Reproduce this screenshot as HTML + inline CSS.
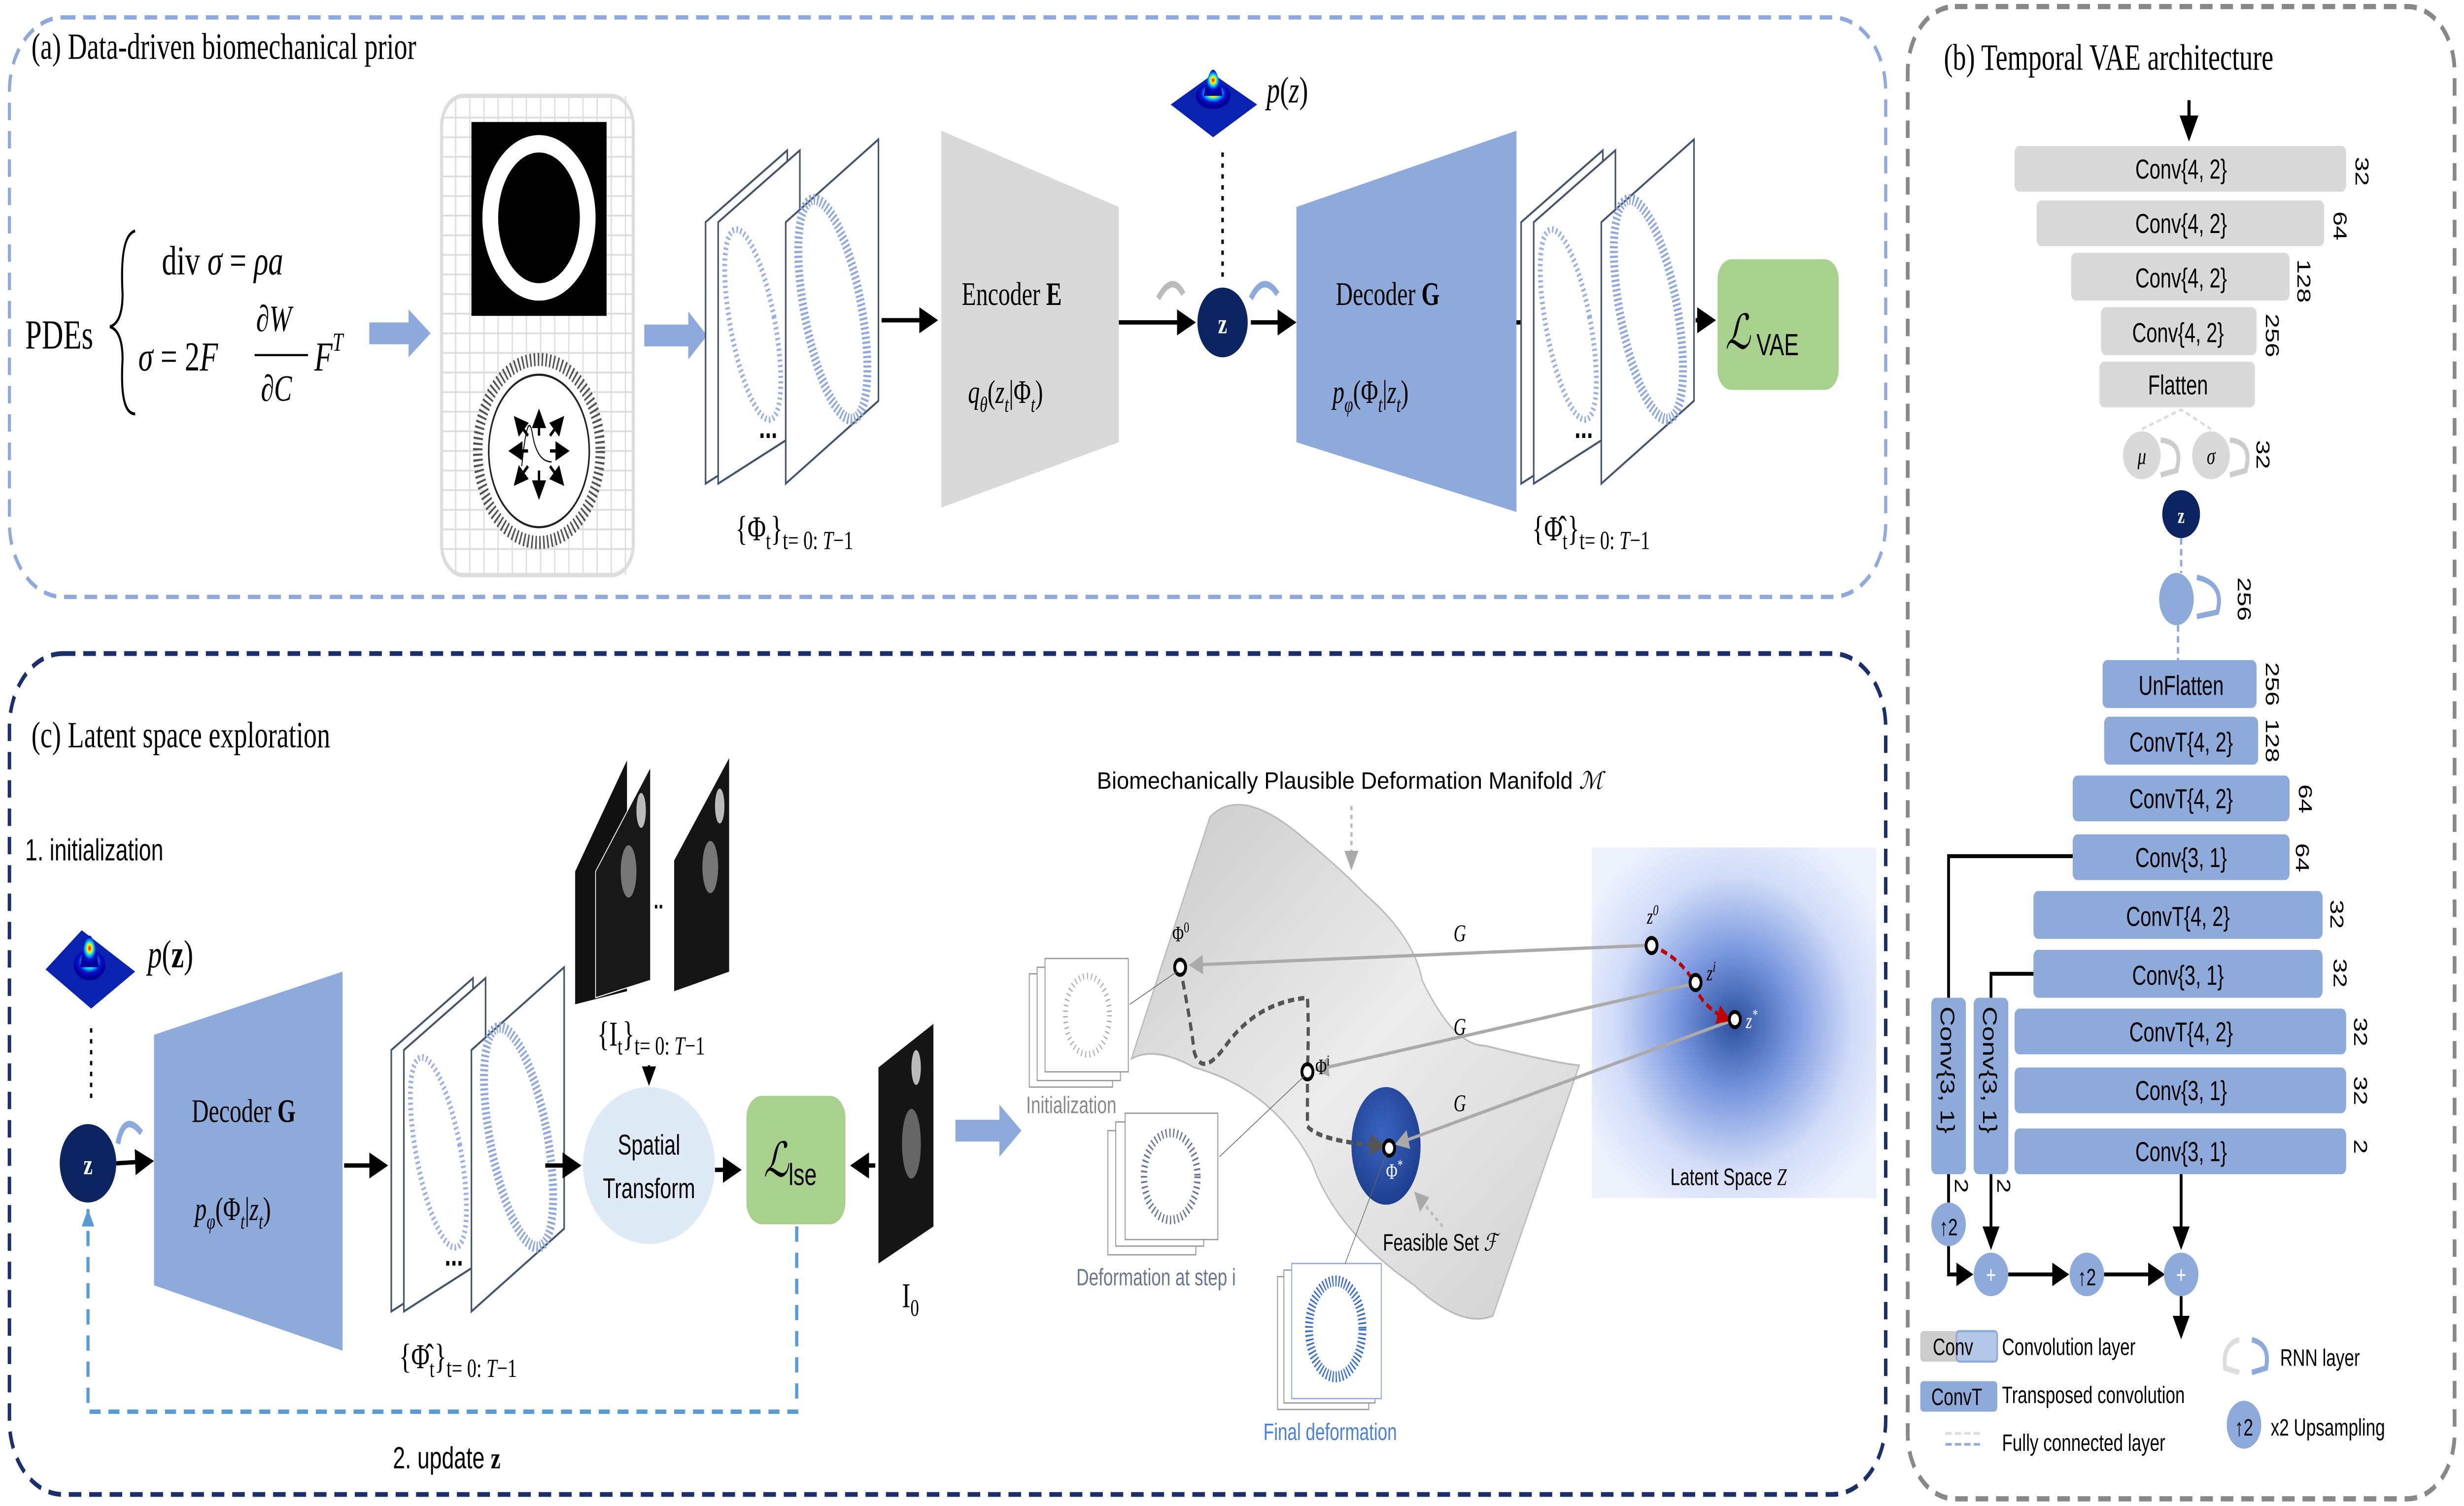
<!DOCTYPE html>
<html><head><meta charset="utf-8"><style>
html,body{margin:0;padding:0;background:#fff;width:100%;height:100%;overflow:hidden;}
svg{display:block;width:100vw;height:100vh;}
.sr{font-family:"Liberation Serif",serif;}
.ss{font-family:"Liberation Sans",sans-serif;}
</style></head><body>
<svg viewBox="0 0 1568 691.3" preserveAspectRatio="none" xmlns="http://www.w3.org/2000/svg">
<defs>
<marker id="ab" markerWidth="6" markerHeight="6" refX="5" refY="3" orient="auto" markerUnits="strokeWidth"><path d="M0,0 L6,3 L0,6 z" fill="#000"/></marker>
<marker id="ag" markerWidth="6" markerHeight="6" refX="5" refY="3" orient="auto" markerUnits="strokeWidth"><path d="M0,0 L6,3 L0,6 z" fill="#aaa"/></marker>
<marker id="ar" markerWidth="5" markerHeight="5" refX="4" refY="2.5" orient="auto" markerUnits="strokeWidth"><path d="M0,0 L5,2.5 L0,5 z" fill="#c00000"/></marker>
<marker id="ad" markerWidth="5" markerHeight="5" refX="4" refY="2.5" orient="auto" markerUnits="strokeWidth"><path d="M0,0 L5,2.5 L0,5 z" fill="#555"/></marker>
<g id="frames">
 <polygon points="0,38 52,5 52,134 0,158" fill="#fff" stroke="#44546a" stroke-width="1"/>
 <polygon points="8,38 60,5 60,134 8,158" fill="#fff" stroke="#44546a" stroke-width="1"/>
 <ellipse cx="30" cy="85" rx="14" ry="45" fill="none" stroke="#9bb0e0" stroke-width="3" stroke-dasharray="1 1.5" transform="rotate(-15 30 85)"/>
 <polygon points="51,38 110,0 110,120 51,158" fill="#fff" stroke="#44546a" stroke-width="1"/>
 <ellipse cx="81" cy="78" rx="18" ry="52" fill="none" stroke="#8ea7dc" stroke-width="5" stroke-dasharray="1 1.2" transform="rotate(-15 81 78)"/>
 <text x="34" y="137" class="ss" font-size="14" font-weight="bold">...</text>
</g>
<radialGradient id="bump" cx="50%" cy="40%" r="50%"><stop offset="0" stop-color="#e00"/><stop offset="0.25" stop-color="#ff0"/><stop offset="0.45" stop-color="#0cf"/><stop offset="0.7" stop-color="#11c"/><stop offset="1" stop-color="#009"/></radialGradient>
<radialGradient id="lat" cx="50%" cy="50%" r="60%"><stop offset="0" stop-color="#2b4f9e"/><stop offset="0.35" stop-color="#7d9ae0"/><stop offset="0.7" stop-color="#d2dcf8"/><stop offset="1" stop-color="#eef2fd"/></radialGradient>
<radialGradient id="feas" cx="45%" cy="40%" r="60%"><stop offset="0" stop-color="#3a64c0"/><stop offset="1" stop-color="#1f3f8f"/></radialGradient>
<linearGradient id="man" x1="0" y1="0" x2="1" y2="1"><stop offset="0" stop-color="#c9c9c9"/><stop offset="0.5" stop-color="#ececec"/><stop offset="1" stop-color="#d0d0d0"/></linearGradient>
</defs>

<rect x="6" y="8" width="1194" height="266" rx="34" fill="none" stroke="#8fa9dc" stroke-width="2" stroke-dasharray="8 5"/>
<rect x="6" y="300" width="1194" height="386" rx="34" fill="none" stroke="#1a2f6b" stroke-width="2.2" stroke-dasharray="8 5"/>
<rect x="1214" y="3" width="348" height="685" rx="30" fill="none" stroke="#888" stroke-width="2.4" stroke-dasharray="8 5"/>

<text x="20" y="27" class="sr" font-size="17">(a) Data-driven biomechanical prior</text>
<text x="16" y="160" class="sr" font-size="19">PDEs</text>
<path d="M86,106 Q76,108 78,135 Q78,148 70,150 Q78,152 78,165 Q76,190 86,190" fill="none" stroke="#000" stroke-width="1.3"/>
<text x="103" y="126" class="sr" font-size="19">div <tspan font-style="italic">σ</tspan> =  <tspan font-style="italic">ρa</tspan></text>
<text x="88" y="170" class="sr" font-size="19"><tspan font-style="italic">σ</tspan> = 2<tspan font-style="italic">F</tspan></text>
<text x="163" y="152" class="sr" font-size="17" font-style="italic">∂W</text>
<line x1="162" y1="163" x2="196" y2="163" stroke="#000" stroke-width="1"/>
<text x="166" y="184" class="sr" font-size="17" font-style="italic">∂C</text>
<text x="200" y="170" class="sr" font-size="19" font-style="italic">F<tspan font-size="12" dy="-9">T</tspan></text>
<polygon points="235,148 260,148 260,142 274,153 260,164 260,158 235,158" fill="#8ea9db"/>
<rect x="281" y="44" width="122" height="220" rx="14" fill="#fff" stroke="#ddd" stroke-width="2"/>
<g stroke="#ddd" stroke-width="0.8">
<path d="M281,54H403M281,63H403M281,72H403M281,81H403M281,90H403M281,99H403M281,108H403M281,117H403M281,126H403M281,135H403M281,144H403M281,153H403M281,162H403M281,171H403M281,180H403M281,189H403M281,198H403M281,207H403M281,216H403M281,225H403M281,234H403M281,243H403M281,252H403"/>
<path d="M290,44V264M299,44V264M308,44V264M317,44V264M326,44V264M335,44V264M344,44V264M353,44V264M362,44V264M371,44V264M380,44V264M389,44V264M398,44V264"/>
</g>
<rect x="300" y="56" width="86" height="89" fill="#000"/>
<ellipse cx="343" cy="100" rx="36" ry="38" fill="#fff"/>
<ellipse cx="343" cy="100" rx="26" ry="30" fill="#000"/>
<ellipse cx="343" cy="207" rx="39" ry="42" fill="#fff" stroke="#555" stroke-width="6" stroke-dasharray="1 1.5"/>
<ellipse cx="343" cy="207" rx="32" ry="35" fill="#fff" stroke="#222" stroke-width="1"/>
<g stroke="#000" stroke-width="1.5" marker-end="url(#ab)">
<line x1="343" y1="200" x2="343" y2="189"/><line x1="343" y1="216" x2="343" y2="228"/>
<line x1="336" y1="207" x2="325" y2="207"/><line x1="350" y1="207" x2="361" y2="207"/>
<line x1="336" y1="200" x2="328" y2="192"/><line x1="350" y1="200" x2="358" y2="192"/>
<line x1="336" y1="214" x2="328" y2="222"/><line x1="350" y1="214" x2="358" y2="222"/>
</g>
<path d="M332,214 Q336,186 339,200 Q342,212 351,212" fill="none" stroke="#000" stroke-width="0.6"/>
<polygon points="410,149 438,149 438,143 450,154 438,165 438,159 410,159" fill="#8ea9db"/>
<use href="#frames" x="449" y="64"/>
<text x="468" y="248" class="sr" font-size="16">{Φ<tspan font-size="11" dy="4">t</tspan><tspan dy="-4">}</tspan><tspan font-size="12" dy="4">t= 0: <tspan font-style="italic">T</tspan>−1</tspan></text>
<line x1="561" y1="147" x2="595" y2="147" stroke="#000" stroke-width="2" marker-end="url(#ab)"/>
<polygon points="599,60 712,95 712,203 599,233" fill="#d9d9d9"/>
<text x="612" y="140" class="sr" font-size="15">Encoder <tspan font-weight="bold">E</tspan></text>
<text x="616" y="185" class="sr" font-size="15" font-style="italic">q<tspan font-size="10" dy="4">θ</tspan><tspan dy="-4" font-style="normal">(</tspan>z<tspan font-size="10" dy="4">t</tspan><tspan dy="-4" font-style="normal">|Φ</tspan><tspan font-size="10" dy="4">t</tspan><tspan dy="-4" font-style="normal">)</tspan></text>
<path d="M737,137 Q746,125 753,135" fill="none" stroke="#bbb" stroke-width="3"/>
<line x1="712" y1="148" x2="759" y2="148" stroke="#000" stroke-width="2" marker-end="url(#ab)"/>
<circle cx="778" cy="148" r="16" fill="#0c2461"/>
<text x="778" y="153" text-anchor="middle" class="sr" font-size="13" font-weight="bold" fill="#fff">z</text>
<path d="M796,137 Q804,125 813,135" fill="none" stroke="#8ea9db" stroke-width="3"/>
<line x1="796" y1="148" x2="823" y2="148" stroke="#000" stroke-width="2" marker-end="url(#ab)"/>
<line x1="778" y1="70" x2="778" y2="128" stroke="#000" stroke-width="1.6" stroke-dasharray="2 3"/>
<polygon points="745,48 772,34 800,48 772,63" fill="#0a22b0"/>
<ellipse cx="772" cy="44" rx="11" ry="6" fill="url(#bump)"/>
<path d="M766,44 Q772,20 778,44 z" fill="url(#bump)"/>
<text x="806" y="47" class="sr" font-size="17" font-style="italic">p<tspan font-style="normal">(</tspan>z<tspan font-style="normal">)</tspan></text>
<polygon points="825,95 965,60 965,235 825,203" fill="#8eaadb"/>
<text x="850" y="140" class="sr" font-size="15">Decoder <tspan font-weight="bold">G</tspan></text>
<text x="848" y="185" class="sr" font-size="15" font-style="italic">p<tspan font-size="10" dy="4">φ</tspan><tspan dy="-4" font-style="normal">(Φ</tspan><tspan font-size="10" dy="4">t</tspan><tspan dy="-4" font-style="normal">|</tspan>z<tspan font-size="10" dy="4">t</tspan><tspan dy="-4" font-style="normal">)</tspan></text>
<line x1="965" y1="148" x2="974" y2="148" stroke="#000" stroke-width="2"/>
<use href="#frames" x="968" y="64"/>
<text x="975" y="248" class="sr" font-size="16">{Φ̂<tspan font-size="11" dy="4">t</tspan><tspan dy="-4">}</tspan><tspan font-size="12" dy="4">t= 0: <tspan font-style="italic">T</tspan>−1</tspan></text>
<line x1="1079" y1="147" x2="1090" y2="147" stroke="#000" stroke-width="2" marker-end="url(#ab)"/>
<rect x="1093" y="119" width="77" height="60" rx="9" fill="#a9d18e"/>
<text x="1098" y="160" class="sr" font-size="22" font-style="italic">ℒ<tspan font-size="14" font-style="normal" class="ss" dy="3"> VAE</tspan></text>

<text x="20" y="343" class="sr" font-size="17">(c) Latent space exploration</text>
<text x="16" y="395" class="ss" font-size="14">1. initialization</text>
<polygon points="29,445 52,427 86,446 58,463" fill="#0a22b0"/>
<ellipse cx="57" cy="443" rx="10" ry="7" fill="url(#bump)"/>
<path d="M51,444 Q57,415 63,444 z" fill="url(#bump)"/>
<text x="94" y="444" class="sr" font-size="18" font-style="italic">p<tspan font-style="normal">(</tspan><tspan font-weight="bold" font-style="normal">z</tspan><tspan font-style="normal">)</tspan></text>
<line x1="58" y1="472" x2="58" y2="505" stroke="#000" stroke-width="1.5" stroke-dasharray="2 3"/>
<circle cx="56" cy="534" r="18" fill="#0c2461"/>
<text x="56" y="539" text-anchor="middle" class="sr" font-size="13" font-weight="bold" fill="#fff">z</text>
<path d="M75,525 Q79,510 90,520" fill="none" stroke="#8ea9db" stroke-width="3"/>
<line x1="74" y1="534" x2="96" y2="533" stroke="#000" stroke-width="2" marker-end="url(#ab)"/>
<polygon points="98,475 218,446 218,620 98,590" fill="#8eaadb"/>
<text x="122" y="515" class="sr" font-size="15">Decoder <tspan font-weight="bold">G</tspan></text>
<text x="124" y="560" class="sr" font-size="15" font-style="italic">p<tspan font-size="10" dy="4">φ</tspan><tspan dy="-4" font-style="normal">(Φ</tspan><tspan font-size="10" dy="4">t</tspan><tspan dy="-4" font-style="normal">|</tspan>z<tspan font-size="10" dy="4">t</tspan><tspan dy="-4" font-style="normal">)</tspan></text>
<line x1="219" y1="535" x2="245" y2="535" stroke="#000" stroke-width="2" marker-end="url(#ab)"/>
<use href="#frames" x="249" y="444"/>
<text x="254" y="628" class="sr" font-size="16">{Φ̂<tspan font-size="11" dy="4">t</tspan><tspan dy="-4">}</tspan><tspan font-size="12" dy="4">t= 0: <tspan font-style="italic">T</tspan>−1</tspan></text>
<line x1="347" y1="535" x2="368" y2="535" stroke="#000" stroke-width="2" marker-end="url(#ab)"/>
<g>
<polygon points="366,400 399,349 399,455 366,461" fill="#111"/>
<polygon points="379,400 414,352 414,450 379,458" fill="#181818" stroke="#fff" stroke-width="0.5"/>
<polygon points="429,395 464,348 464,446 429,455" fill="#151515"/>
<ellipse cx="400" cy="400" rx="5" ry="12" fill="#777"/><ellipse cx="452" cy="398" rx="5" ry="12" fill="#777"/>
<ellipse cx="408" cy="372" rx="3" ry="8" fill="#bbb"/><ellipse cx="458" cy="370" rx="3" ry="8" fill="#bbb"/>
<text x="416" y="417" class="ss" font-size="11" font-weight="bold">..</text>
</g>
<text x="380" y="480" class="sr" font-size="16">{I<tspan font-size="11" dy="4">t</tspan><tspan dy="-4">}</tspan><tspan font-size="12" dy="4">t= 0: <tspan font-style="italic">T</tspan>−1</tspan></text>
<line x1="413" y1="489" x2="413" y2="497" stroke="#000" stroke-width="1.5" marker-end="url(#ab)"/>
<ellipse cx="413" cy="535" rx="42" ry="36" fill="#deeaf6"/>
<text x="413" y="530" text-anchor="middle" class="ss" font-size="13">Spatial</text>
<text x="413" y="550" text-anchor="middle" class="ss" font-size="13">Transform</text>
<line x1="455" y1="537" x2="470" y2="537" stroke="#000" stroke-width="2" marker-end="url(#ab)"/>
<rect x="475" y="503" width="63" height="59" rx="10" fill="#a9d18e"/>
<text x="486" y="540" class="sr" font-size="22" font-style="italic">ℒ<tspan font-size="14" font-style="normal" class="ss" dy="4">lse</tspan></text>
<line x1="557" y1="535" x2="543" y2="535" stroke="#000" stroke-width="2" marker-end="url(#ab)"/>
<polygon points="559,490 594,470 594,563 559,580" fill="#151515"/>
<ellipse cx="580" cy="525" rx="6" ry="16" fill="#666"/><ellipse cx="583" cy="490" rx="3" ry="8" fill="#bbb"/>
<text x="574" y="600" class="sr" font-size="16">I<tspan font-size="11" dy="4">0</tspan></text>
<path d="M507,563 V648 H56 V555" fill="none" stroke="#5b9bd5" stroke-width="2" stroke-dasharray="7 5"/>
<path d="M56,555 l-4,8 h8 z" fill="#5b9bd5"/>
<text x="250" y="674" class="ss" font-size="14">2. update  <tspan class="sr" font-weight="bold">z</tspan></text>
<polygon points="608,514 636,514 636,507 650,519 636,531 636,524 608,524" fill="#8ea9db"/>

<path d="M770,375 Q790,360 830,385 Q855,400 868,410 Q900,430 905,450 Q925,480 945,480 Q990,488 1005,489 L950,604 Q930,610 900,590 Q850,565 835,534 Q810,500 760,490 Q735,480 720,486 Z" fill="url(#man)" stroke="#bbb" stroke-width="0.8"/>
<text x="698" y="362" class="ss" font-size="11" textLength="322" lengthAdjust="spacingAndGlyphs">Biomechanically Plausible Deformation Manifold <tspan class="sr" font-style="italic">ℳ</tspan></text>
<line x1="860" y1="370" x2="860" y2="398" stroke="#bbb" stroke-width="1.5" stroke-dasharray="2 2" marker-end="url(#ag)"/>
<rect x="1013" y="389" width="181" height="161" fill="url(#lat)"/>
<text x="1063" y="544" class="ss" font-size="11">Latent Space <tspan class="sr" font-style="italic">Z</tspan></text>
<ellipse cx="882" cy="526" rx="22" ry="27" fill="url(#feas)"/>
<text x="880" y="574" class="ss" font-size="11">Feasible Set <tspan class="sr" font-style="italic">ℱ</tspan></text>
<line x1="918" y1="563" x2="901" y2="548" stroke="#bbb" stroke-width="1.5" stroke-dasharray="2 2" marker-end="url(#ag)"/>
<g stroke="#aaa" stroke-width="1.5" fill="none" marker-end="url(#ag)">
<line x1="1047" y1="434" x2="758" y2="443"/>
<line x1="1075" y1="452" x2="838" y2="491"/>
<line x1="1100" y1="469" x2="889" y2="525"/>
</g>
<text x="925" y="432" class="sr" font-size="11" font-style="italic">G</text>
<text x="925" y="475" class="sr" font-size="11" font-style="italic">G</text>
<text x="925" y="510" class="sr" font-size="11" font-style="italic">G</text>
<path d="M751,444 Q758,470 760,483 Q765,495 780,480 Q800,460 832,458 Q833,470 832,492 L832,517 Q840,524 880,526" fill="none" stroke="#555" stroke-width="2" stroke-dasharray="4 2.5" marker-end="url(#ad)"/>
<path d="M1051,434 Q1070,440 1078,451 Q1082,462 1100,468" fill="none" stroke="#c00000" stroke-width="1.8" stroke-dasharray="4 2.5" marker-end="url(#ar)"/>
<g fill="#fff" stroke="#000" stroke-width="1.8">
<circle cx="751" cy="444" r="3.5"/><circle cx="832" cy="492" r="3.5"/><circle cx="884" cy="527" r="3.5"/>
<circle cx="1051" cy="434" r="3.5"/><circle cx="1079" cy="451" r="3.5"/><circle cx="1104" cy="468" r="3.5"/>
</g>
<text x="746" y="432" class="sr" font-size="10">Φ<tspan font-size="7" dy="-4">0</tspan></text>
<text x="837" y="493" class="sr" font-size="10">Φ<tspan font-size="7" dy="-4">i</tspan></text>
<text x="882" y="541" class="sr" font-size="10" fill="#fff">Φ<tspan font-size="7" dy="-4">*</tspan></text>
<text x="1048" y="424" class="sr" font-size="10" font-style="italic">z<tspan font-size="7" dy="-4">0</tspan></text>
<text x="1086" y="450" class="sr" font-size="10" font-style="italic">z<tspan font-size="7" dy="-4">i</tspan></text>
<text x="1111" y="472" class="sr" font-size="10" font-style="italic" fill="#fff">z<tspan font-size="7" dy="-4">*</tspan></text>
<g fill="#fff" stroke="#999" stroke-width="0.6">
<rect x="655" y="447" width="53" height="52"/><rect x="660" y="444" width="53" height="52"/><rect x="665" y="440" width="53" height="52"/>
<rect x="705" y="519" width="56" height="57"/><rect x="710" y="515" width="56" height="57"/><rect x="716" y="511" width="59" height="58"/>
<rect x="813" y="586" width="58" height="61"/><rect x="817" y="583" width="58" height="61"/><rect x="822" y="580" width="57" height="62" stroke="#8ea9db"/>
</g>
<ellipse cx="692" cy="466" rx="14" ry="18" fill="none" stroke="#aaa" stroke-width="3" stroke-dasharray="0.6 2"/>
<ellipse cx="745" cy="540" rx="17" ry="20" fill="none" stroke="#6a7590" stroke-width="4" stroke-dasharray="0.8 1.6"/>
<ellipse cx="850" cy="610" rx="17" ry="22" fill="none" stroke="#3a6fd0" stroke-width="5" stroke-dasharray="0.8 1.2"/>
<g stroke="#666" stroke-width="0.4"><line x1="719" y1="461" x2="749" y2="446"/><line x1="776" y1="531" x2="830" y2="494"/><line x1="856" y1="580" x2="882" y2="530"/></g>
<text x="653" y="511" class="ss" font-size="11" fill="#888">Initialization</text>
<text x="685" y="590" class="ss" font-size="11" fill="#6a7590">Deformation at step i</text>
<text x="804" y="661" class="ss" font-size="11" fill="#4a80d6">Final deformation</text>

<text x="1237" y="32" class="sr" font-size="17">(b) Temporal VAE architecture</text>
<line x1="1393" y1="46" x2="1393" y2="63" stroke="#000" stroke-width="2" marker-end="url(#ab)"/>
<g class="ss" font-size="12.5" text-anchor="middle">
<rect x="1282" y="67" width="211" height="21" rx="3" fill="#d9d9d9"/><text x="1388" y="82">Conv{4, 2}</text>
<rect x="1296" y="92" width="183" height="21" rx="3" fill="#d9d9d9"/><text x="1388" y="107">Conv{4, 2}</text>
<rect x="1318" y="116" width="139" height="22" rx="3" fill="#d9d9d9"/><text x="1388" y="132">Conv{4, 2}</text>
<rect x="1337" y="141" width="99" height="22" rx="3" fill="#d9d9d9"/><text x="1386" y="157">Conv{4, 2}</text>
<rect x="1336" y="166" width="99" height="21" rx="3" fill="#d9d9d9"/><text x="1386" y="181">Flatten</text>
<rect x="1338" y="303" width="98" height="22" rx="3" fill="#8eaadb"/><text x="1388" y="319">UnFlatten</text>
<rect x="1339" y="329" width="98" height="22" rx="3" fill="#8eaadb"/><text x="1388" y="345">ConvT{4, 2}</text>
<rect x="1319" y="356" width="138" height="21" rx="3" fill="#8eaadb"/><text x="1388" y="371">ConvT{4, 2}</text>
<rect x="1319" y="383" width="138" height="21" rx="3" fill="#8eaadb"/><text x="1388" y="398">Conv{3, 1}</text>
<rect x="1294" y="409" width="184" height="22" rx="3" fill="#8eaadb"/><text x="1386" y="425">ConvT{4, 2}</text>
<rect x="1294" y="436" width="184" height="22" rx="3" fill="#8eaadb"/><text x="1386" y="452">Conv{3, 1}</text>
<rect x="1282" y="463" width="211" height="21" rx="3" fill="#8eaadb"/><text x="1388" y="478">ConvT{4, 2}</text>
<rect x="1282" y="490" width="211" height="21" rx="3" fill="#8eaadb"/><text x="1388" y="505">Conv{3, 1}</text>
<rect x="1282" y="518" width="211" height="21" rx="3" fill="#8eaadb"/><text x="1388" y="533">Conv{3, 1}</text>
</g>
<g class="ss" font-size="12">
<text transform="translate(1499,72) rotate(90)">32</text>
<text transform="translate(1485,97) rotate(90)">64</text>
<text transform="translate(1462,119) rotate(90)">128</text>
<text transform="translate(1442,144) rotate(90)">256</text>
<text transform="translate(1436,202) rotate(90)">32</text>
<text transform="translate(1424,265) rotate(90)">256</text>
<text transform="translate(1442,304) rotate(90)">256</text>
<text transform="translate(1442,330) rotate(90)">128</text>
<text transform="translate(1463,360) rotate(90)">64</text>
<text transform="translate(1461,387) rotate(90)">64</text>
<text transform="translate(1483,413) rotate(90)">32</text>
<text transform="translate(1485,440) rotate(90)">32</text>
<text transform="translate(1498,467) rotate(90)">32</text>
<text transform="translate(1498,494) rotate(90)">32</text>
<text transform="translate(1498,523) rotate(90)">2</text>
<text transform="translate(1244,541) rotate(90)">2</text>
<text transform="translate(1271,541) rotate(90)">2</text>
</g>
<path d="M1363,197 L1388,188 L1407,197" fill="none" stroke="#ddd" stroke-width="1.2" stroke-dasharray="3 2"/>
<ellipse cx="1363" cy="209" rx="12" ry="11" fill="#d9d9d9"/>
<ellipse cx="1407" cy="209" rx="12" ry="11" fill="#d9d9d9"/>
<text x="1363" y="213" text-anchor="middle" class="sr" font-size="11" font-style="italic">μ</text>
<text x="1407" y="213" text-anchor="middle" class="sr" font-size="11" font-style="italic">σ</text>
<path d="M1375,202 Q1390,203 1385,216 L1375,218" fill="none" stroke="#ccc" stroke-width="2.5"/>
<path d="M1419,202 Q1434,203 1429,216 L1419,218" fill="none" stroke="#ccc" stroke-width="2.5"/>
<ellipse cx="1388" cy="236" rx="12" ry="11" fill="#0c2461"/>
<text x="1388" y="240" text-anchor="middle" class="sr" font-size="10" font-weight="bold" fill="#fff">z</text>
<line x1="1388" y1="247" x2="1388" y2="263" stroke="#8ea9db" stroke-width="1.5" stroke-dasharray="3 2"/>
<ellipse cx="1385" cy="275" rx="11" ry="12" fill="#8eaadb"/>
<path d="M1398,265 Q1416,268 1411,281 L1398,283" fill="none" stroke="#8ea9db" stroke-width="2.5"/>
<line x1="1386" y1="287" x2="1386" y2="303" stroke="#8ea9db" stroke-width="1.5" stroke-dasharray="3 2"/>
<path d="M1319,393 H1240 V458" fill="none" stroke="#000" stroke-width="1.8"/>
<path d="M1294,447 H1267 V458" fill="none" stroke="#000" stroke-width="1.8"/>
<rect x="1229" y="458" width="22" height="81" rx="3" fill="#8eaadb"/>
<rect x="1256" y="458" width="22" height="81" rx="3" fill="#8eaadb"/>
<text transform="translate(1235,462) rotate(90)" class="ss" font-size="12.5">Conv{3, 1}</text>
<text transform="translate(1262,462) rotate(90)" class="ss" font-size="12.5">Conv{3, 1}</text>
<line x1="1240" y1="539" x2="1240" y2="552" stroke="#000" stroke-width="1.8"/>
<ellipse cx="1240" cy="562" rx="11" ry="10" fill="#8eaadb"/>
<text x="1240" y="567" text-anchor="middle" class="ss" font-size="11">↑2</text>
<path d="M1240,572 V585 H1254" fill="none" stroke="#000" stroke-width="1.8" marker-end="url(#ab)"/>
<line x1="1267" y1="539" x2="1267" y2="572" stroke="#000" stroke-width="1.8" marker-end="url(#ab)"/>
<ellipse cx="1267" cy="585" rx="11" ry="10" fill="#8eaadb"/>
<text x="1267" y="589" text-anchor="middle" class="ss" font-size="11" fill="#fff">+</text>
<line x1="1278" y1="585" x2="1315" y2="585" stroke="#000" stroke-width="1.8" marker-end="url(#ab)"/>
<ellipse cx="1328" cy="585" rx="11" ry="10" fill="#8eaadb"/>
<text x="1328" y="590" text-anchor="middle" class="ss" font-size="11">↑2</text>
<line x1="1339" y1="585" x2="1376" y2="585" stroke="#000" stroke-width="1.8" marker-end="url(#ab)"/>
<line x1="1388" y1="539" x2="1388" y2="572" stroke="#000" stroke-width="1.8" marker-end="url(#ab)"/>
<ellipse cx="1388" cy="585" rx="11" ry="10" fill="#8eaadb"/>
<text x="1388" y="589" text-anchor="middle" class="ss" font-size="11" fill="#fff">+</text>
<line x1="1388" y1="595" x2="1388" y2="613" stroke="#000" stroke-width="1.8" marker-end="url(#ab)"/>
<rect x="1222" y="611" width="40" height="14" rx="2" fill="#ccc"/>
<rect x="1245" y="611" width="26" height="14" rx="2" fill="#b4c7e7" stroke="#8eaadb"/>
<text x="1230" y="622" class="ss" font-size="11">Conv</text>
<text x="1274" y="622" class="ss" font-size="11">Convolution layer</text>
<rect x="1222" y="634" width="49" height="14" rx="2" fill="#8eaadb"/>
<text x="1229" y="645" class="ss" font-size="11">ConvT</text>
<text x="1274" y="644" class="ss" font-size="11">Transposed convolution</text>
<line x1="1238" y1="658" x2="1262" y2="658" stroke="#ddd" stroke-width="1.2" stroke-dasharray="4 2"/>
<line x1="1238" y1="663" x2="1262" y2="663" stroke="#8ea9db" stroke-width="1.2" stroke-dasharray="4 2"/>
<text x="1274" y="666" class="ss" font-size="11">Fully connected layer</text>
<path d="M1425,615 Q1414,617 1416,628 L1425,630" fill="none" stroke="#ddd" stroke-width="2.5"/>
<path d="M1433,615 Q1445,617 1442,628 L1433,630" fill="none" stroke="#8ea9db" stroke-width="2.5"/>
<text x="1451" y="627" class="ss" font-size="11">RNN layer</text>
<ellipse cx="1428" cy="654" rx="11" ry="11" fill="#8eaadb"/>
<text x="1428" y="659" text-anchor="middle" class="ss" font-size="11">↑2</text>
<text x="1445" y="659" class="ss" font-size="11">x2 Upsampling</text>
</svg>
</body></html>
